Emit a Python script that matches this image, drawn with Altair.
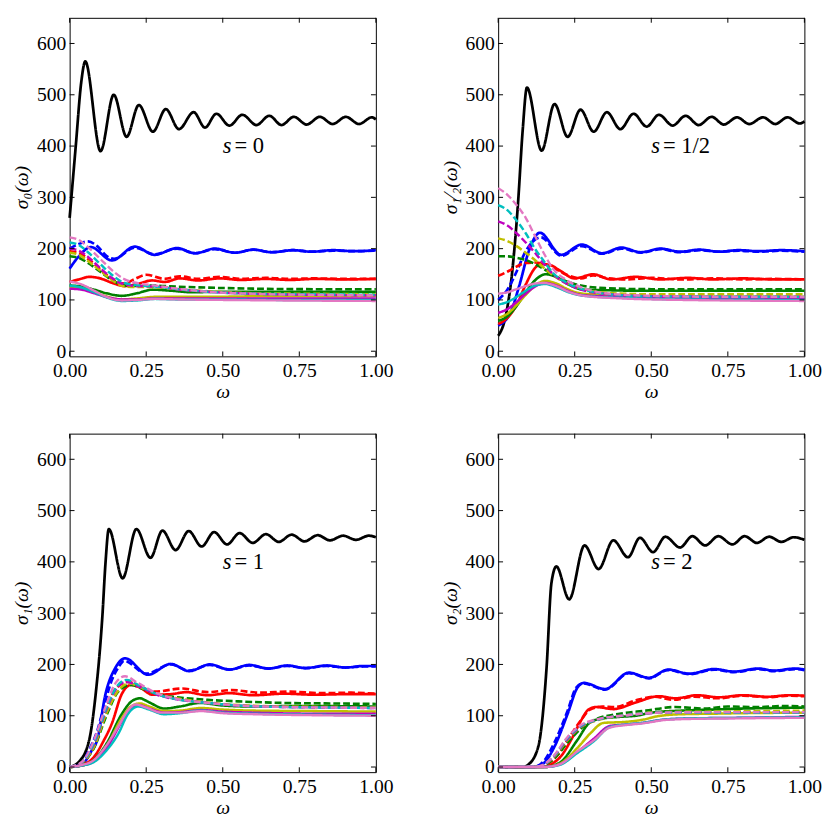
import altair as alt
import pandas as pd

# ---------------- ticks / labels ----------------
X_TICKS = [0.0, 0.25, 0.5, 0.75, 1.0]
Y_TICKS = [0, 100, 200, 300, 400, 500, 600]
X_DOMAIN = [0.0, 1.0]
Y_DOMAIN = [-10, 650]

SERIES = ["k", "b", "b--", "r", "r--", "g", "g--", "y", "y--",
          "m", "m--", "c", "c--", "p", "p--"]
COLORS = ["#000000", "#0000ff", "#0000ff", "#ff0000", "#ff0000",
          "#008000", "#008000", "#bfbf00", "#bfbf00", "#bf00bf", "#bf00bf",
          "#00bfbf", "#00bfbf", "#e377c2", "#e377c2"]
DASHES = [[1, 0] if not s.endswith("--") else [7, 3] for s in SERIES]
WIDTHS = [2.8] + [2.4] * 14

Y_TITLES = ["σ₀(ω)", "σ₁⁄₂(ω)", "σ₁(ω)", "σ₂(ω)"]
ANN_VALUES = ["0", "1/2", "1", "2"]
ANN_X = 0.50
ANN_Y = 400

# ---------------- s = 0 ----------------
TL_k = [(0, 260), (0.02, 400), (0.038, 525), (0.051, 565), (0.101, 390), (0.144, 500), (0.186, 418),
        (0.226, 480), (0.272, 428), (0.314, 472), (0.357, 433), (0.405, 466), (0.442, 436), (0.479, 463),
        (0.522, 440), (0.564, 461), (0.61, 441), (0.652, 459), (0.692, 441), (0.732, 457), (0.774, 442),
        (0.817, 457), (0.859, 443), (0.902, 457), (0.945, 443), (0.987, 456), (1.0, 452)]
TL_b = [(0, 161), (0.03, 185), (0.069, 203), (0.138, 177), (0.213, 204), (0.277, 188), (0.351, 201),
        (0.41, 191), (0.474, 200), (0.54, 192), (0.6, 198), (0.66, 193), (0.73, 197), (0.79, 194),
        (0.86, 197), (0.93, 195), (1.0, 197)]
TL_bd = [(0, 200), (0.03, 209), (0.06, 214), (0.09, 205), (0.12, 186), (0.145, 180), (0.213, 202),
         (0.277, 189), (0.351, 200), (0.41, 191), (0.474, 199), (0.54, 192), (0.6, 198), (0.66, 193),
         (0.73, 197), (0.79, 194), (0.86, 196), (0.93, 195), (1.0, 196)]
TL_r = [(0, 135), (0.03, 140), (0.065, 145), (0.1, 142), (0.14, 133), (0.18, 127), (0.22, 131),
        (0.27, 138), (0.31, 135), (0.36, 142), (0.42, 138), (0.49, 142), (0.56, 139), (0.64, 141),
        (0.72, 139), (0.8, 141), (0.9, 140), (1.0, 141)]
TL_rd = [(0, 195), (0.03, 192), (0.06, 180), (0.1, 160), (0.14, 140), (0.18, 132), (0.21, 140),
         (0.25, 149), (0.31, 141), (0.36, 146), (0.42, 141), (0.49, 145), (0.56, 141), (0.64, 143),
         (0.72, 141), (0.8, 142), (0.9, 141), (1.0, 141)]
TL_g = [(0, 128), (0.04, 126), (0.08, 120), (0.12, 113), (0.17, 108), (0.22, 113), (0.27, 120),
        (0.33, 118), (0.4, 115), (0.5, 116), (0.7, 116), (1.0, 116)]
TL_gd = [(0, 185), (0.03, 182), (0.06, 172), (0.1, 155), (0.14, 138), (0.18, 128), (0.22, 127),
         (0.27, 128), (0.35, 126), (0.45, 124), (0.6, 122), (0.8, 121), (1.0, 121)]
TL_y = [(0, 125), (0.04, 122), (0.08, 115), (0.12, 107), (0.17, 101), (0.22, 103), (0.28, 106),
        (0.35, 106), (0.45, 106), (0.6, 107), (0.8, 107), (1.0, 108)]
TL_yd = [(0, 192), (0.03, 188), (0.06, 176), (0.1, 157), (0.14, 138), (0.18, 126), (0.22, 125),
         (0.28, 125), (0.35, 121), (0.45, 117), (0.6, 113), (0.8, 112), (1.0, 111)]
TL_m = [(0, 122), (0.04, 120), (0.08, 113), (0.12, 106), (0.17, 101), (0.22, 101), (0.28, 103),
        (0.35, 103), (0.5, 103), (0.7, 103), (1.0, 103)]
TL_md = [(0, 200), (0.03, 196), (0.06, 184), (0.1, 162), (0.14, 142), (0.18, 130), (0.22, 127),
         (0.28, 126), (0.35, 121), (0.45, 116), (0.6, 112), (0.8, 110), (1.0, 109)]
TL_c = [(0, 128), (0.04, 124), (0.08, 115), (0.12, 105), (0.17, 98), (0.22, 99), (0.28, 102),
        (0.35, 101), (0.5, 101), (0.7, 100), (1.0, 100)]
TL_cd = [(0, 212), (0.03, 207), (0.06, 193), (0.1, 170), (0.14, 148), (0.18, 133), (0.22, 129),
         (0.28, 126), (0.35, 121), (0.45, 116), (0.6, 112), (0.8, 111), (1.0, 110)]
TL_p = [(0, 136), (0.04, 130), (0.08, 118), (0.12, 106), (0.17, 99), (0.22, 100), (0.28, 102),
        (0.35, 101), (0.5, 100), (0.7, 99), (1.0, 98)]
TL_pd = [(0, 222), (0.03, 217), (0.06, 203), (0.1, 180), (0.14, 157), (0.18, 140), (0.22, 133),
         (0.28, 128), (0.35, 122), (0.45, 116), (0.6, 112), (0.8, 110), (1.0, 109)]

# ---------------- s = 1/2 ----------------
TR_k = [(0, 30), (0.025, 70), (0.045, 150), (0.065, 290), (0.08, 430), (0.094, 514), (0.142, 391),
        (0.184, 482), (0.227, 418), (0.269, 471), (0.312, 428), (0.355, 466), (0.399, 433), (0.442, 463),
        (0.485, 438), (0.525, 461), (0.57, 440), (0.612, 459), (0.655, 441), (0.697, 457), (0.737, 442),
        (0.78, 456), (0.82, 443), (0.865, 456), (0.905, 443), (0.945, 456), (0.985, 444), (1.0, 448)]
TR_b = [(0, 50), (0.04, 75), (0.07, 130), (0.1, 195), (0.136, 231), (0.206, 188), (0.273, 208),
        (0.339, 191), (0.403, 202), (0.466, 193), (0.53, 200), (0.594, 194), (0.658, 198), (0.722, 194),
        (0.786, 197), (0.85, 195), (0.925, 197), (1.0, 195)]
TR_bd = [(0, 100), (0.03, 120), (0.06, 155), (0.09, 195), (0.14, 222), (0.206, 186), (0.273, 205),
         (0.339, 190), (0.403, 200), (0.466, 192), (0.53, 199), (0.594, 193), (0.658, 197), (0.722, 194),
         (0.786, 196), (0.85, 194), (0.925, 196), (1.0, 194)]
TR_r = [(0, 53), (0.03, 65), (0.06, 90), (0.09, 130), (0.12, 162), (0.14, 170), (0.17, 168),
        (0.2, 158), (0.25, 142), (0.31, 150), (0.37, 140), (0.45, 145), (0.53, 140), (0.62, 143),
        (0.7, 140), (0.8, 142), (0.9, 140), (1.0, 140)]
TR_rd = [(0, 147), (0.03, 155), (0.06, 165), (0.09, 172), (0.12, 173), (0.15, 170), (0.18, 163),
         (0.22, 150), (0.27, 142), (0.31, 148), (0.36, 142), (0.42, 140), (0.5, 143), (0.6, 140),
         (0.7, 142), (0.8, 140), (0.9, 141), (1.0, 140)]
TR_g = [(0, 59), (0.03, 68), (0.06, 88), (0.09, 115), (0.12, 138), (0.155, 150), (0.19, 145),
        (0.23, 130), (0.28, 120), (0.35, 119), (0.45, 118), (0.6, 118), (1.0, 118)]
TR_gd = [(0, 185), (0.03, 185), (0.06, 182), (0.09, 178), (0.12, 170), (0.15, 160), (0.18, 148),
         (0.22, 137), (0.27, 128), (0.35, 123), (0.5, 121), (1.0, 121)]
TR_y = [(0, 65), (0.03, 73), (0.06, 90), (0.09, 110), (0.12, 128), (0.155, 137), (0.19, 132),
        (0.23, 120), (0.28, 112), (0.35, 110), (0.5, 107), (1.0, 106)]
TR_yd = [(0, 220), (0.03, 215), (0.06, 205), (0.09, 192), (0.12, 178), (0.15, 162), (0.18, 148),
         (0.22, 133), (0.27, 122), (0.35, 114), (0.5, 111), (1.0, 111)]
TR_m = [(0, 75), (0.03, 82), (0.06, 96), (0.09, 112), (0.12, 126), (0.155, 133), (0.19, 128),
        (0.23, 117), (0.28, 109), (0.4, 106), (0.6, 104), (1.0, 103)]
TR_md = [(0, 253), (0.03, 245), (0.06, 230), (0.09, 212), (0.12, 192), (0.15, 170), (0.18, 150),
         (0.22, 133), (0.27, 120), (0.35, 112), (0.5, 107), (1.0, 106)]
TR_c = [(0, 91), (0.03, 96), (0.06, 106), (0.09, 118), (0.12, 128), (0.155, 131), (0.19, 125),
        (0.23, 115), (0.28, 108), (0.4, 104), (0.6, 101), (1.0, 100)]
TR_cd = [(0, 285), (0.03, 275), (0.06, 255), (0.09, 230), (0.12, 200), (0.15, 175), (0.18, 152),
         (0.22, 135), (0.27, 122), (0.35, 112), (0.5, 107), (1.0, 106)]
TR_p = [(0, 112), (0.03, 115), (0.06, 121), (0.09, 127), (0.12, 132), (0.15, 133), (0.19, 127),
        (0.23, 116), (0.28, 108), (0.4, 103), (0.6, 100), (1.0, 98)]
TR_pd = [(0, 318), (0.03, 305), (0.06, 285), (0.09, 260), (0.12, 225), (0.15, 190), (0.18, 160),
         (0.22, 140), (0.27, 125), (0.35, 113), (0.5, 108), (0.75, 106), (1.0, 106)]

# ---------------- s = 1 ----------------
BL_k = [(0, 0), (0.03, 10), (0.064, 53), (0.085, 142), (0.107, 295), (0.117, 397), (0.128, 464),
        (0.173, 368), (0.218, 464), (0.264, 408), (0.303, 461), (0.346, 423), (0.389, 460), (0.431, 430),
        (0.472, 458), (0.514, 434), (0.555, 456), (0.598, 437), (0.641, 454), (0.683, 439), (0.725, 453),
        (0.767, 440), (0.81, 452), (0.85, 442), (0.893, 451), (0.935, 443), (0.977, 451), (1.0, 448)]
BL_b = [(0, 0), (0.04, 5), (0.07, 30), (0.09, 53), (0.117, 142), (0.149, 193), (0.181, 212),
        (0.256, 180), (0.33, 201), (0.39, 187), (0.458, 200), (0.522, 190), (0.586, 199), (0.65, 192),
        (0.71, 198), (0.77, 193), (0.84, 198), (0.9, 194), (0.96, 197), (1.0, 197)]
BL_bd = [(0, 0), (0.04, 8), (0.065, 35), (0.09, 70), (0.115, 125), (0.138, 170), (0.16, 195),
         (0.178, 207), (0.25, 182), (0.33, 200), (0.39, 188), (0.458, 199), (0.522, 190), (0.586, 198),
         (0.65, 192), (0.71, 197), (0.77, 193), (0.84, 197), (0.9, 194), (0.96, 196), (1.0, 196)]
BL_r = [(0, 0), (0.04, 4), (0.08, 20), (0.11, 50), (0.138, 85), (0.17, 142), (0.2, 160), (0.23, 155),
        (0.27, 141), (0.33, 142), (0.38, 146), (0.45, 140), (0.52, 144), (0.6, 140), (0.7, 143),
        (0.8, 141), (0.9, 142), (1.0, 142)]
BL_rd = [(0, 0), (0.04, 8), (0.08, 42), (0.117, 110), (0.15, 152), (0.19, 166), (0.22, 160),
         (0.277, 147), (0.367, 153), (0.45, 146), (0.53, 150), (0.62, 145), (0.72, 147), (0.82, 144),
         (0.92, 145), (1.0, 143)]
BL_g = [(0, 0), (0.04, 3), (0.08, 14), (0.12, 45), (0.17, 103), (0.2, 127), (0.229, 134), (0.26, 126),
        (0.309, 114), (0.36, 118), (0.426, 125), (0.5, 120), (0.6, 118), (0.75, 119), (1.0, 118)]
BL_gd = [(0, 0), (0.04, 8), (0.08, 38), (0.12, 100), (0.16, 148), (0.2, 160), (0.24, 152), (0.3, 140),
         (0.351, 136), (0.45, 131), (0.55, 128), (0.7, 125), (0.85, 124), (1.0, 123)]
BL_y = [(0, 0), (0.04, 3), (0.08, 12), (0.12, 40), (0.17, 95), (0.2, 118), (0.229, 124), (0.26, 118),
        (0.309, 109), (0.36, 110), (0.43, 115), (0.5, 112), (0.6, 110), (0.8, 109), (1.0, 108)]
BL_yd = [(0, 0), (0.04, 8), (0.08, 40), (0.12, 105), (0.16, 150), (0.195, 163), (0.24, 153),
         (0.3, 140), (0.36, 133), (0.45, 126), (0.55, 121), (0.7, 118), (0.85, 117), (1.0, 116)]
BL_m = [(0, 0), (0.04, 3), (0.08, 11), (0.12, 36), (0.17, 88), (0.2, 113), (0.229, 120), (0.26, 114),
        (0.309, 106), (0.36, 107), (0.43, 111), (0.5, 108), (0.6, 106), (0.8, 104), (1.0, 104)]
BL_md = [(0, 0), (0.04, 9), (0.08, 45), (0.12, 112), (0.155, 155), (0.185, 166), (0.23, 156),
         (0.29, 140), (0.35, 132), (0.45, 125), (0.55, 120), (0.7, 117), (0.85, 116), (1.0, 115)]
BL_c = [(0, 0), (0.04, 3), (0.08, 10), (0.12, 32), (0.16, 66), (0.19, 103), (0.224, 118), (0.26, 112),
        (0.309, 103), (0.36, 105), (0.426, 110), (0.5, 106), (0.6, 104), (0.8, 102), (1.0, 101)]
BL_cd = [(0, 0), (0.04, 9), (0.08, 48), (0.12, 115), (0.155, 158), (0.186, 170), (0.23, 158),
         (0.29, 141), (0.35, 132), (0.45, 125), (0.55, 120), (0.7, 117), (0.85, 116), (1.0, 115)]
BL_p = [(0, 0), (0.04, 4), (0.08, 14), (0.12, 42), (0.16, 80), (0.19, 110), (0.215, 122), (0.25, 116),
        (0.3, 106), (0.36, 106), (0.43, 109), (0.5, 105), (0.6, 103), (0.8, 101), (1.0, 100)]
BL_pd = [(0, 0), (0.04, 10), (0.08, 53), (0.117, 117), (0.149, 163), (0.181, 177), (0.22, 165),
         (0.28, 145), (0.35, 133), (0.45, 125), (0.55, 120), (0.7, 117), (0.85, 116), (1.0, 115)]

# ---------------- s = 2 ----------------
BR_k = [(0, 0), (0.08, 0), (0.099, 5), (0.131, 40), (0.158, 193), (0.174, 359), (0.19, 391),
        (0.232, 327), (0.282, 432), (0.328, 386), (0.376, 442), (0.424, 409), (0.463, 447), (0.506, 419),
        (0.546, 449), (0.594, 428), (0.634, 450), (0.676, 432), (0.719, 450), (0.765, 434), (0.805, 450),
        (0.845, 437), (0.885, 449), (0.925, 439), (0.965, 448), (1.0, 443)]
BR_b = [(0, 0), (0.12, 0), (0.15, 8), (0.184, 40), (0.227, 104), (0.259, 155), (0.28, 164),
        (0.349, 152), (0.427, 184), (0.493, 174), (0.555, 190), (0.624, 182), (0.706, 191), (0.77, 186),
        (0.85, 192), (0.9, 188), (0.97, 192), (1.0, 190)]
BR_bd = [(0, 0), (0.12, 1), (0.15, 12), (0.184, 48), (0.227, 110), (0.255, 155), (0.278, 163),
         (0.349, 151), (0.427, 183), (0.493, 173), (0.555, 189), (0.624, 181), (0.706, 190), (0.77, 185),
         (0.85, 191), (0.9, 187), (0.97, 191), (1.0, 189)]
BR_r = [(0, 0), (0.14, 0), (0.18, 8), (0.205, 21), (0.24, 55), (0.27, 90), (0.295, 112), (0.32, 117),
        (0.376, 113), (0.45, 126), (0.525, 138), (0.58, 134), (0.65, 140), (0.72, 136), (0.8, 140),
        (0.88, 137), (0.95, 140), (1.0, 139)]
BR_rd = [(0, 0), (0.13, 1), (0.17, 10), (0.2, 28), (0.227, 53), (0.27, 91), (0.3, 112), (0.34, 118),
         (0.38, 117), (0.45, 130), (0.51, 137), (0.57, 131), (0.64, 137), (0.72, 134), (0.8, 139),
         (0.88, 136), (0.95, 139), (1.0, 138)]
BR_g = [(0, 0), (0.15, 0), (0.2, 8), (0.259, 53), (0.296, 85), (0.333, 94), (0.4, 98), (0.45, 100),
        (0.5, 106), (0.6, 110), (0.7, 112), (0.8, 114), (0.9, 115), (1.0, 116)]
BR_gd = [(0, 0), (0.13, 1), (0.18, 15), (0.23, 50), (0.28, 80), (0.323, 94), (0.397, 104),
         (0.482, 110), (0.578, 117), (0.674, 114), (0.75, 118), (0.85, 117), (0.93, 119), (1.0, 118)]
BR_y = [(0, 0), (0.15, 0), (0.2, 6), (0.26, 38), (0.3, 65), (0.344, 86), (0.415, 88), (0.47, 92),
        (0.52, 99), (0.6, 103), (0.7, 104), (0.8, 105), (1.0, 106)]
BR_yd = [(0, 0), (0.13, 1), (0.18, 18), (0.227, 53), (0.27, 78), (0.323, 91), (0.42, 101),
         (0.53, 107), (0.68, 108), (0.85, 109), (1.0, 110)]
BR_m = [(0, 0), (0.15, 0), (0.2, 5), (0.26, 30), (0.312, 55), (0.365, 80), (0.42, 83), (0.47, 86),
        (0.55, 93), (0.65, 95), (0.8, 96), (1.0, 98)]
BR_md = [(0, 0), (0.13, 1), (0.18, 19), (0.227, 55), (0.27, 79), (0.323, 92), (0.42, 101),
         (0.53, 106), (0.68, 107), (0.85, 107), (1.0, 107)]
BR_c = [(0, 0), (0.15, 0), (0.2, 4), (0.26, 28), (0.312, 50), (0.365, 78), (0.42, 83), (0.47, 86),
        (0.55, 93), (0.65, 95), (0.8, 96), (1.0, 97)]
BR_cd = [(0, 0), (0.13, 1), (0.18, 20), (0.227, 57), (0.27, 80), (0.323, 92), (0.42, 101),
         (0.53, 106), (0.68, 106), (0.85, 106), (1.0, 106)]
BR_p = [(0, 0), (0.15, 0), (0.2, 5), (0.26, 31), (0.312, 52), (0.365, 77), (0.42, 82), (0.47, 85),
        (0.55, 92), (0.65, 94), (0.8, 95), (1.0, 96)]
BR_pd = [(0, 0), (0.13, 1), (0.18, 21), (0.227, 59), (0.27, 82), (0.323, 93), (0.42, 101),
         (0.53, 106), (0.68, 107), (0.85, 107), (1.0, 107)]

PANELS = [
    [TL_k, TL_b, TL_bd, TL_r, TL_rd, TL_g, TL_gd, TL_y, TL_yd, TL_m, TL_md, TL_c, TL_cd, TL_p, TL_pd],
    [TR_k, TR_b, TR_bd, TR_r, TR_rd, TR_g, TR_gd, TR_y, TR_yd, TR_m, TR_md, TR_c, TR_cd, TR_p, TR_pd],
    [BL_k, BL_b, BL_bd, BL_r, BL_rd, BL_g, BL_gd, BL_y, BL_yd, BL_m, BL_md, BL_c, BL_cd, BL_p, BL_pd],
    [BR_k, BR_b, BR_bd, BR_r, BR_rd, BR_g, BR_gd, BR_y, BR_yd, BR_m, BR_md, BR_c, BR_cd, BR_p, BR_pd],
]

# ---------------- layout / style ----------------
W, H = 313, 346
TICK_LEN = 5
FONT = "Liberation Serif"


def panel(series_list, ytitle, ann):
    rows = []
    for name, pts in zip(SERIES, series_list):
        for w, v in pts:
            rows.append({"w": w, "v": v, "s": name})
    df = pd.DataFrame(rows)

    xs = alt.Scale(domain=X_DOMAIN, nice=False, zero=False)
    ys = alt.Scale(domain=Y_DOMAIN, nice=False, zero=False)
    common = dict(ticks=False, domain=False, grid=False, titleFontStyle="italic", labelFont=FONT,
                  titleFont=FONT, labelFontSize=20, titleFontSize=20, labelColor="black",
                  titleColor="black", titleFontWeight="normal")
    xaxis = alt.Axis(values=X_TICKS, format=".2f", title="ω", labelPadding=5, titlePadding=5,
                     minExtent=21, maxExtent=21, labelFlush=False, **common)
    yaxis = alt.Axis(values=Y_TICKS, format="d", title=ytitle, labelPadding=4, titlePadding=5,
                     minExtent=34, maxExtent=34, **common)
    X = lambda f: alt.X(f, scale=xs, axis=xaxis)
    Y = lambda f: alt.Y(f, scale=ys, axis=yaxis)

    lines = alt.Chart(df).mark_line(interpolate="monotone").encode(
        x=X("w:Q"), y=Y("v:Q"),
        color=alt.Color("s:N", scale=alt.Scale(domain=SERIES, range=COLORS), legend=None),
        strokeDash=alt.StrokeDash("s:N", scale=alt.Scale(domain=SERIES, range=DASHES), legend=None),
        strokeWidth=alt.StrokeWidth("s:N", scale=alt.Scale(domain=SERIES, range=WIDTHS), legend=None),
    )

    xt = pd.DataFrame({"w": X_TICKS})
    yt = pd.DataFrame({"v": Y_TICKS})
    rule = dict(color="black", strokeWidth=1)
    bottom = alt.Chart(xt).mark_rule(**rule).encode(x=X("w:Q"), y=alt.value(H), y2=alt.value(H - TICK_LEN))
    top = alt.Chart(xt).mark_rule(**rule).encode(x=X("w:Q"), y=alt.value(0), y2=alt.value(TICK_LEN))
    left = alt.Chart(yt).mark_rule(**rule).encode(y=Y("v:Q"), x=alt.value(0), x2=alt.value(TICK_LEN))
    right = alt.Chart(yt).mark_rule(**rule).encode(y=Y("v:Q"), x=alt.value(W), x2=alt.value(W - TICK_LEN))

    ann_df = pd.DataFrame({"w": [ANN_X], "v": [ANN_Y], "a": ["s"], "b": ["= " + ann]})
    t1 = alt.Chart(ann_df).mark_text(font=FONT, fontSize=23, fontStyle="italic", align="left",
                                     baseline="middle", color="black").encode(x=X("w:Q"), y=Y("v:Q"), text="a:N")
    t2 = alt.Chart(ann_df).mark_text(font=FONT, fontSize=23, align="left", baseline="middle",
                                     color="black", dx=12).encode(x=X("w:Q"), y=Y("v:Q"), text="b:N")

    return alt.layer(lines, bottom, top, left, right, t1, t2).properties(width=W, height=H)


charts = [panel(PANELS[i], Y_TITLES[i], ANN_VALUES[i]) for i in range(4)]
row1 = alt.hconcat(charts[0], charts[1], spacing=47)
row2 = alt.hconcat(charts[2], charts[3], spacing=47)
chart = alt.vconcat(row1, row2, spacing=31).properties(
    padding={"left": 3, "top": 0, "right": 0, "bottom": 0}
).configure(font=FONT).configure_view(stroke="black", strokeWidth=1)

chart.save("out.html", embed_options={"renderer": "svg", "actions": False})
